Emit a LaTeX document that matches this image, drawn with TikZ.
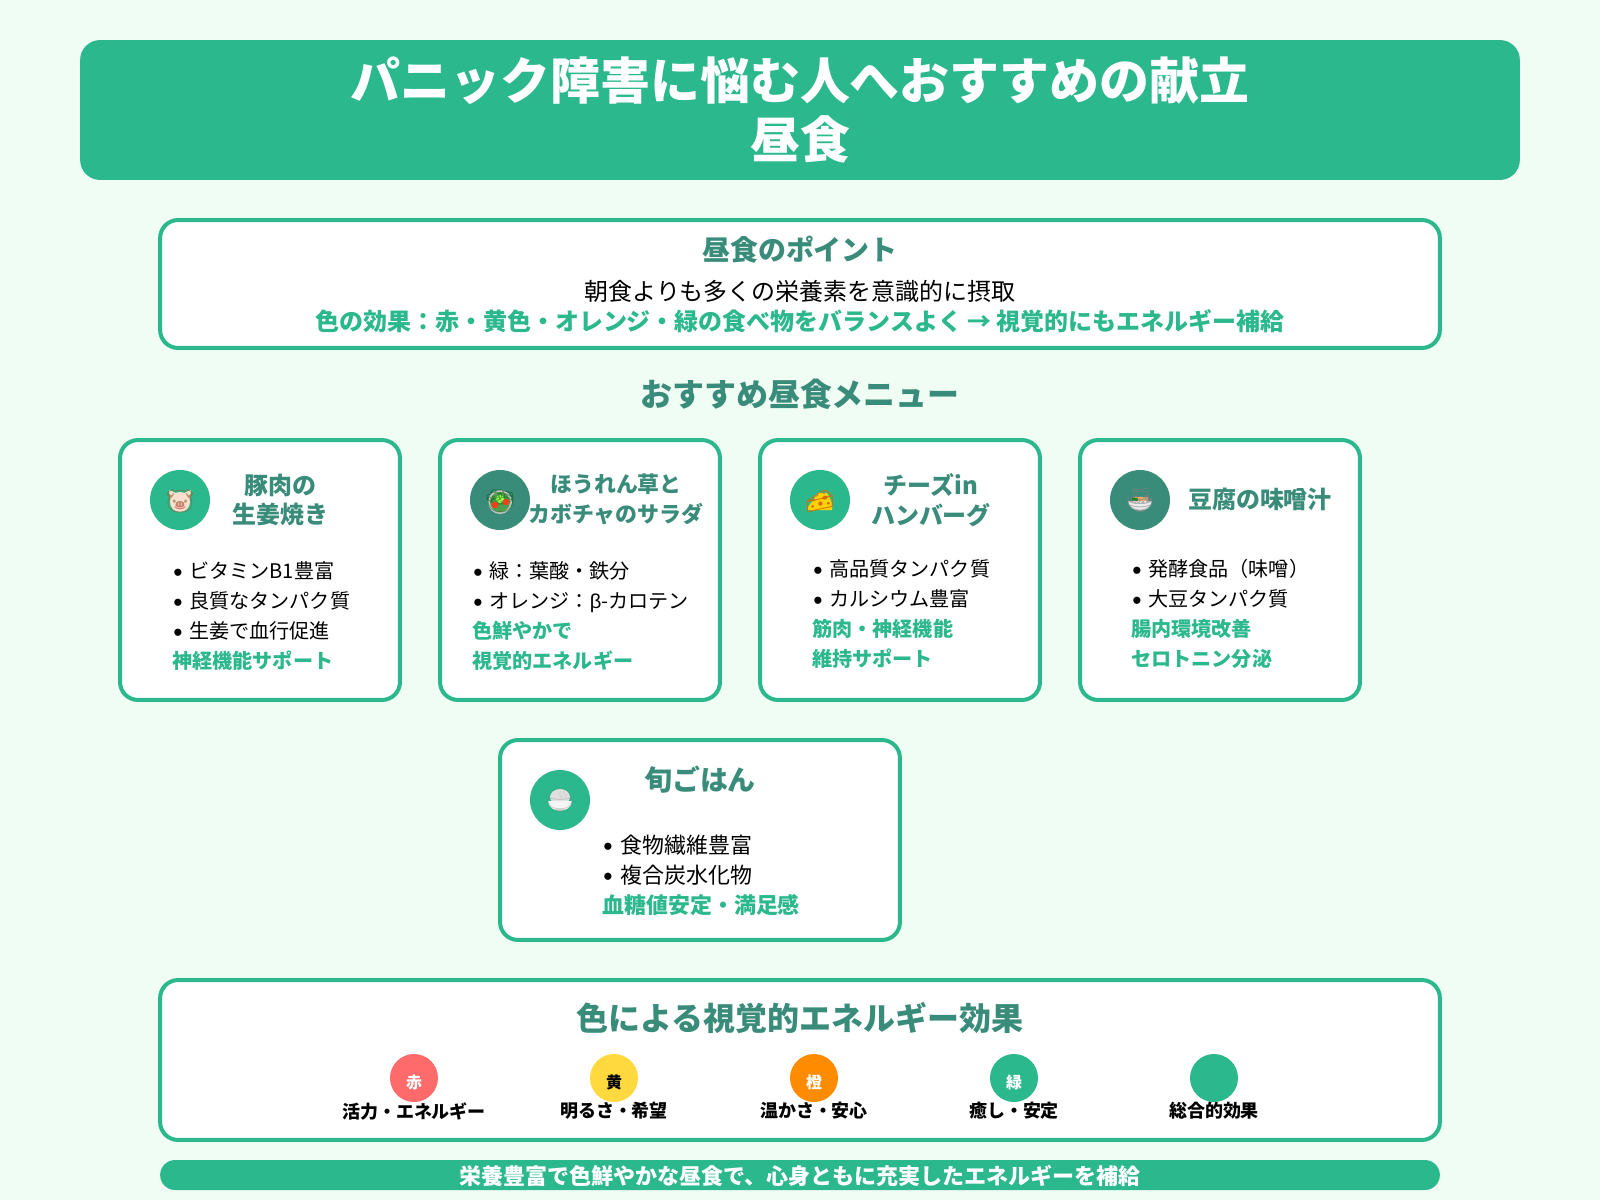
\documentclass[tikz,border=0pt]{standalone}
\usepackage{fontspec}
\setmainfont{Noto Sans CJK JP}
\newfontfamily\emojifont{Noto Emoji}
\newfontfamily\latinfont{Liberation Sans}
\definecolor{pagebg}{HTML}{F0FDF4}
\definecolor{leaf}{HTML}{2CB88D}
\definecolor{deep}{HTML}{3A8C7A}
\definecolor{swred}{HTML}{FF6B6B}
\definecolor{swyellow}{HTML}{FFD93D}
\definecolor{sworange}{HTML}{FF8C00}
\tikzset{
  framebox/.style={draw=leaf,line width=0.08cm,fill=white,rounded corners=0.36cm},
  cardbox/.style={framebox,minimum width=5.6cm,minimum height=5.2cm},
  iconcirc/.style={circle,minimum size=1.2cm,inner sep=0pt},
  swatch/.style={circle,minimum size=0.96cm,inner sep=0pt,font=\fontsize{9.07}{11}\selectfont\bfseries},
  swatchlab/.style={font=\fontsize{10.24}{12}\selectfont\bfseries},
  emoji/.style={font=\fontsize{13.6}{14}\emojifont},
  cardhead/.style={text=deep,align=center,inner sep=0pt,font=\fontsize{13.64}{17}\selectfont\bfseries},
  cardbody/.style={anchor=west,align=left,inner sep=0pt,font=\fontsize{11.45}{17}\selectfont},
  bighead/.style={text=deep,inner sep=0pt,font=\fontsize{18.2}{22}\selectfont\bfseries},
}
\newcommand{\bul}[1][9.07pt]{\makebox[#1][l]{\raisebox{-1.5pt}{\fontsize{15}{15}\latinfont •}}}
\newcommand{\grn}[1]{{\hspace{-0.6pt}\color{leaf}\bfseries #1}}
\newcommand{\swchar}[1]{\raisebox{-2.3pt}[\height][\depth]{#1}}
\begin{document}
\begin{tikzpicture}[x=0.02cm,y=-0.02cm]
    \fill[pagebg] (0,0) rectangle (1600,1200);
    \useasboundingbox (0,0) rectangle (1600,1200);

    \node[fill=leaf,rounded corners=0.4cm,minimum width=28.8cm,minimum height=2.8cm] (header) at (800,110) {};
    \node[text=white,align=center,inner sep=0pt,font=\fontsize{28.41}{34}\selectfont\bfseries] (headertxt) at (800,110) {パニック障害に悩む人へおすすめの献立\\昼食};

    \node[framebox,minimum width=25.6cm,minimum height=2.56cm] (pointbox) at (800,284) {};
    \node[text=deep,inner sep=0pt,font=\fontsize{15.9}{19}\selectfont\bfseries] (pointhead) at (800,250) {昼食のポイント};
    \node[inner sep=0pt,font=\fontsize{13.64}{17}\selectfont] (pointline) at (800,291) {朝食よりも多くの栄養素を意識的に摂取};
    \node[text=leaf,inner sep=0pt,font=\fontsize{13.64}{17}\selectfont\bfseries] (pointcolor) at (800,321) {色の効果：赤・黄色・オレンジ・緑の食べ物をバランスよく → 視覚的にもエネルギー補給};

    \node[bighead] (menuhead) at (800,394) {おすすめ昼食メニュー};

    \node[cardbox] (pork) at (260,570) {};
    \node[iconcirc,fill=leaf] (porkicon) at (180,500) {};
    \begin{scope}[shift={(180,501)}]
      \fill[pink!60!orange!35!white] (-11,-11) -- (-4,-8) -- (4,-8) -- (11,-11) -- (10,-2) -- (-10,-2) -- cycle;
      \fill[pink!60!orange!35!white] (0,1) ellipse [x radius=10, y radius=10];
      \fill[pink!70!red!60!white] (0,5) ellipse [x radius=5, y radius=3.5];
    \end{scope}
    \node[emoji,text=brown!75!black,opacity=0.6] (porkemoji) at (180,501) {🐷};
    \node[cardhead] (porkhead) at (280.5,500) {豚肉の\\生姜焼き};
    \node[cardbody] (porkbody) at (173,616) {\bul ビタミンB1豊富\\\bul 良質なタンパク質\\\bul 生姜で血行促進\\\grn{神経機能サポート}};

    \node[cardbox] (salad) at (580,570) {};
    \node[iconcirc,fill=deep] (saladicon) at (500,500) {};
    \begin{scope}[shift={(500,502)}]
      \fill[gray!45!white] (0,0) circle [radius=12];
      \fill[green!45!black!70!white] (0,0) circle [radius=10];
      \fill[green!60!yellow!70!white] (0,-3) circle [radius=4];
    \end{scope}
    \node[emoji,text=green!30!black,opacity=0.45] (salademoji) at (500,501) {🥗};
    \begin{scope}[shift={(500,502)}]
      \fill[red!70!orange!90!white] (-5,3) circle [radius=3.3];
      \fill[red!70!orange!90!white] (6,0) circle [radius=3.2];
    \end{scope}
    \node[cardhead,font=\fontsize{12.47}{17}\selectfont\bfseries] (saladhead) at (616,499) {ほうれん草と\\カボチャのサラダ};
    \node[cardbody] (saladbody) at (473,616) {\bul 緑：葉酸・鉄分\\\bul オレンジ：{\latinfont β}-カロテン\\\grn{色鮮やかで}\\\grn{視覚的エネルギー}};

    \node[cardbox] (cheese) at (900,570) {};
    \node[iconcirc,fill=leaf] (cheeseicon) at (820,500) {};
    \begin{scope}[shift={(820,500)}]
      \fill[yellow!70!orange] (-12,7) -- (-2,-7) -- (7,-7) -- (12,3) -- (12,10) -- (-12,10) -- cycle;
    \end{scope}
    \node[emoji,text=orange!85!black] (cheeseemoji) at (820,501) {🧀};
    \node[cardhead] (cheesehead) at (931,500) {チーズin\\ハンバーグ};
    \node[cardbody] (cheesebody) at (813,614) {\bul 高品質タンパク質\\\bul カルシウム豊富\\\grn{筋肉・神経機能}\\\grn{維持サポート}};

    \node[cardbox] (tofu) at (1220,570) {};
    \node[iconcirc,fill=deep] (tofuicon) at (1140,500) {};
    \begin{scope}[shift={(1140,500)}]
      \fill[gray!15!white] (-12,1) .. controls (-11,14) and (11,14) .. (12,1) -- cycle;
      \fill[orange!60!white] (-5,-3) rectangle (8,1);
      \fill[green!50!black] (-8,-2) rectangle (-2,1);
    \end{scope}
    \node[emoji,text=gray,opacity=0.55] (tofuemoji) at (1140,500) {🍜};
    \node[cardhead] (tofuhead) at (1260,499) {豆腐の味噌汁};
    \node[cardbody] (tofubody) at (1132,614) {\bul 発酵食品（味噌）\\\bul 大豆タンパク質\\\grn{腸内環境改善}\\\grn{セロトニン分泌}};

    \node[framebox,minimum width=8cm,minimum height=4cm] (rice) at (700,840) {};
    \node[iconcirc,fill=leaf] (riceicon) at (560,800) {};
    \begin{scope}[shift={(560,800)}]
      \fill[gray!25!white] (0,-3) ellipse [x radius=10, y radius=8];
      \fill[gray!8!white] (-12,1) .. controls (-11,14) and (11,14) .. (12,1) -- cycle;
    \end{scope}
    \node[emoji,text=gray,opacity=0.3] (riceemoji) at (560,800) {🍚};
    \node[cardhead,font=\fontsize{15.9}{19}\selectfont\bfseries] (ricehead) at (700,780) {旬ごはん};
    \node[cardbody,font=\fontsize{12.5}{17}\selectfont] (ricebody) at (603,875) {\bul[9.6pt]食物繊維豊富\\\bul[9.6pt]複合炭水化物\\\grn{血糖値安定・満足感}};

    \node[framebox,minimum width=25.6cm,minimum height=3.2cm] (effectbox) at (800,1060) {};
    \node[bighead] (effecthead) at (800,1018) {色による視覚的エネルギー効果};

    \node[swatch,fill=swred,text=white] (redsw) at (414,1078) {\swchar{赤}};
    \node[swatch,fill=swyellow,text=black] (yellowsw) at (614,1078) {\swchar{黄}};
    \node[swatch,fill=sworange,text=white] (orangesw) at (814,1078) {\swchar{橙}};
    \node[swatch,fill=leaf,text=white] (greensw) at (1014,1078) {\swchar{緑}};
    \node[swatch,fill=leaf] (allsw) at (1214,1078) {};
    \node[swatchlab] (redlab) at (414,1111) {活力・エネルギー};
    \node[swatchlab] (yellowlab) at (614,1111) {明るさ・希望};
    \node[swatchlab] (orangelab) at (814,1111) {温かさ・安心};
    \node[swatchlab] (greenlab) at (1014,1111) {癒し・安定};
    \node[swatchlab] (alllab) at (1214,1111) {総合的効果};

    \node[fill=leaf,rounded corners=0.3cm,minimum width=25.6cm,minimum height=0.6cm,inner sep=0pt] (footer) at (800,1175) {};
    \node[text=white,inner sep=0pt,font=\fontsize{12.52}{15}\selectfont\bfseries] (footertxt) at (800,1176) {栄養豊富で色鮮やかな昼食で、心身ともに充実したエネルギーを補給};
\end{tikzpicture}
\end{document}
